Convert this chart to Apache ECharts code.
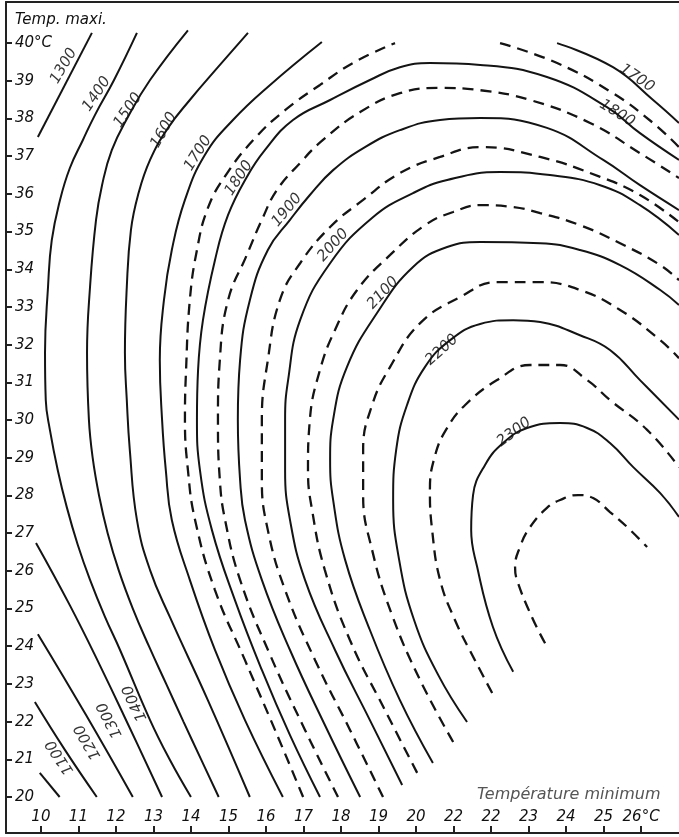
<!DOCTYPE html>
<html><head><meta charset="utf-8">
<script src="https://cdn.jsdelivr.net/npm/echarts@6/dist/echarts.min.js"></script>
<style>html,body{margin:0;padding:0;background:#fff}#c{width:679px;height:837px}</style>
</head><body><div id="c"></div>
<script>
// Axis ticks and labels (as printed on the original)
const xTicks = [10,11,12,13,14,15,16,17,18,19,20,21,22,23,24,25,26];
const xTickLabels = ['10','11','12','13','14','15','16','17','18','19','20','22','22','23','24','25','26°C'];
const yTicks = [20,21,22,23,24,25,26,27,28,29,30,31,32,33,34,35,36,37,38,39,40];
const yTickLabels = ['20','21','22','23','24','25','26','27','28','29','30','31','32','33','34','35','36','37','38','39','40°C'];

// Isolines: [Tmin, Tmax] points
const c1000 = [[9.97,20.64],[10.5,20.0]];
const c1100 = [[9.84,22.52],[10.64,21.25],[11.49,20.0]];
const c1200 = [[9.92,24.32],[11.2,22.18],[12.45,20.0]];
const c1300a = [[9.87,26.74],[10.77,25.09],[11.57,23.50],[12.37,21.83],[13.23,20.0]];
const c1300b = [[9.92,37.51],[11.36,40.27]];
const c1400 = [[12.56,40.27],[11.95,39.02],[11.44,38.09],[11.12,37.43],[10.77,36.68],[10.51,35.84],[10.29,34.77],[10.19,33.53],[10.11,31.78],[10.13,30.53],[10.24,29.74],[10.45,28.67],[10.69,27.69],[10.98,26.7],[11.31,25.76],[11.70,24.8],[12.11,23.90],[12.91,22.04],[13.43,21.0],[14.0,20.0]];
const c1500 = [[13.92,40.34],[12.91,39.02],[12.32,38.04],[11.89,37.16],[11.63,36.23],[11.47,35.31],[11.31,33.53],[11.23,31.78],[11.28,30.01],[11.38,29.0],[11.55,28.0],[11.78,27.0],[12.08,26.0],[12.45,25.0],[12.88,24.0],[13.34,23.0],[13.80,22.0],[14.27,21.0],[14.74,20.0]];
const c1600 = [[15.52,40.27],[14.72,39.36],[13.97,38.49],[13.39,37.75],[12.91,36.90],[12.59,35.97],[12.40,35.04],[12.29,33.53],[12.24,31.78],[12.29,30.53],[12.37,29.21],[12.56,27.35],[12.91,26.02],[13.44,24.77],[14.45,22.57],[15.57,20.0]];
const c1700a = [[17.49,40.03],[16.11,38.89],[15.12,37.96],[14.37,37.03],[13.84,35.84],[13.49,34.51],[13.28,33.18],[13.17,31.59],[13.23,30.01],[13.33,28.67],[13.49,27.35],[13.97,25.76],[14.64,23.90],[15.44,22.04],[16.45,20.0]];
const c1700b = [[23.76,40.0],[25.25,39.36],[26.32,38.49],[27.01,37.88]];
const c1750a = [[16.99,20.0],[16.24,21.78],[15.44,23.63],[14.64,25.49],[14.11,27.35],[13.92,28.67],[13.84,30.01],[13.87,31.33],[13.97,33.18],[14.16,34.51],[14.45,35.62],[14.93,36.50],[15.71,37.48],[16.51,38.22],[17.44,38.89],[18.37,39.5],[19.44,40.0]];
const c1750b = [[22.24,40.0],[23.76,39.47],[25.25,38.67],[26.32,37.88],[27.01,37.24]];
const c1800 = [[17.44,20.0],[16.64,21.64],[15.89,23.37],[15.17,25.23],[14.56,27.08],[14.24,28.67],[14.16,30.01],[14.19,31.33],[14.32,32.65],[14.64,34.24],[14.99,35.44],[15.49,36.45],[15.97,37.16],[16.72,37.96],[17.71,38.49],[18.77,39.02],[19.57,39.36],[20.37,39.47],[21.71,39.42],[23.49,39.10],[25.09,38.30],[25.97,37.61],[27.01,36.90]];
const c1850 = [[17.92,20.0],[17.04,21.78],[16.11,23.77],[15.31,25.76],[14.91,27.35],[14.77,28.41],[14.72,30.01],[14.77,31.59],[14.99,33.18],[15.49,34.38],[15.89,35.31],[16.29,36.10],[16.91,36.82],[17.52,37.43],[18.51,38.17],[19.57,38.67],[20.64,38.81],[21.71,38.75],[23.04,38.49],[24.64,37.88],[25.97,37.08],[27.01,36.42]];
const c1900 = [[18.51,20.0],[17.57,21.91],[16.64,23.90],[15.89,25.76],[15.44,27.35],[15.31,28.41],[15.25,30.01],[15.31,31.59],[15.57,33.18],[16.05,34.51],[16.64,35.31],[17.17,35.97],[17.79,36.63],[18.64,37.24],[19.57,37.69],[20.64,37.96],[21.71,38.01],[23.49,37.75],[24.99,36.90],[25.97,36.23],[27.01,35.57]];
const c1950 = [[19.12,20.0],[18.24,21.78],[17.31,23.63],[16.51,25.49],[16.05,27.08],[15.89,28.41],[15.89,30.01],[16.05,31.59],[16.37,33.18],[16.91,34.16],[17.71,35.12],[18.59,35.84],[19.57,36.55],[20.64,36.98],[21.71,37.24],[23.31,36.98],[24.91,36.45],[25.97,35.97],[27.01,35.25]];
const c2000 = [[19.63,20.32],[18.77,22.04],[17.84,23.90],[17.04,25.76],[16.64,27.35],[16.51,28.67],[16.51,30.01],[16.59,31.06],[16.91,32.65],[17.71,34.16],[18.85,35.38],[19.92,36.02],[20.83,36.37],[22.24,36.58],[23.57,36.50],[24.91,36.23],[25.97,35.70],[27.01,34.91]];
const c2050 = [[20.03,20.64],[19.17,22.31],[18.24,24.16],[17.57,26.02],[17.23,27.61],[17.12,28.67],[17.17,30.01],[17.44,31.33],[17.84,32.39],[18.43,33.45],[19.31,34.38],[20.24,35.17],[20.99,35.52],[21.71,35.70],[22.59,35.65],[23.31,35.49],[24.37,35.17],[25.44,34.69],[26.51,34.11],[27.01,33.71]];
const c2100 = [[20.45,20.90],[19.57,22.57],[18.77,24.43],[18.11,26.29],[17.79,27.88],[17.71,28.94],[17.79,30.01],[18.16,31.41],[18.96,32.84],[19.92,34.06],[20.83,34.59],[21.71,34.72],[23.31,34.69],[24.37,34.51],[25.44,34.11],[26.51,33.45],[27.01,33.05]];
const c2150 = [[20.99,21.46],[20.11,23.10],[19.36,24.83],[18.83,26.55],[18.59,28.01],[18.59,29.21],[18.83,30.40],[19.31,31.41],[20.11,32.57],[21.17,33.26],[22.16,33.66],[23.31,33.66],[24.37,33.45],[25.44,32.92],[26.51,32.12],[27.01,31.64]];
const c2200 = [[21.36,21.99],[20.59,23.24],[19.95,24.69],[19.55,26.29],[19.39,27.88],[19.47,29.20],[19.76,30.40],[20.24,31.41],[20.91,32.12],[21.71,32.55],[22.59,32.65],[23.31,32.60],[24.37,32.25],[25.17,31.86],[25.97,31.06],[27.01,30.01]];
const c2250 = [[22.03,22.76],[21.57,23.63],[21.04,24.69],[20.64,25.76],[20.43,27.08],[20.37,28.14],[20.51,29.07],[20.83,29.79],[21.31,30.40],[22.16,31.06],[23.04,31.46],[23.84,31.46],[24.56,31.06],[25.17,30.53],[26.16,29.74],[27.01,28.75]];
const c2300 = [[22.59,23.32],[22.05,24.51],[21.63,26.10],[21.47,27.08],[21.52,28.01],[21.84,28.81],[22.32,29.39],[22.96,29.79],[23.84,29.92],[24.56,29.79],[25.17,29.39],[25.79,28.75],[26.51,28.06],[27.01,27.43]];
const c2350 = [[23.44,24.08],[23.09,24.77],[22.69,25.76],[22.64,26.10],[22.77,26.63],[23.04,27.16],[23.49,27.67],[23.84,27.88],[24.32,28.01],[24.72,27.93],[25.17,27.56],[25.63,27.16],[26.16,26.63]];

const solidLines = [c1000,c1100,c1200,c1300a,c1300b,c1400,c1500,c1600,c1700a,c1700b,c1800,c1900,c2000,c2100,c2200,c2300];
const dashedLines = [c1750a,c1750b,c1850,c1950,c2050,c2150,c2250,c2350];

// Isoline labels: [Tmin, Tmax, text]
const lineLabels = [
  [10.61,39.39,'1300'],[11.49,38.65,'1400'],[12.32,38.22,'1500'],[13.28,37.69,'1600'],
  [14.19,37.08,'1700'],[15.28,36.42,'1800'],[16.56,35.57,'1900'],[17.79,34.64,'2000'],
  [19.12,33.37,'2100'],[20.69,31.86,'2200'],[22.61,29.68,'2300'],
  [25.89,39.07,'1700'],[25.36,38.14,'1800'],
  [10.51,21.06,'1100'],[11.25,21.46,'1200'],[11.84,22.04,'1300'],[12.51,22.49,'1400']
];
const labelAngles = [60,56,56,61,58,57,50,48,47,42,37,-34,-32,123,120,117,115];

const FONT = 'DejaVu Sans';
const INK = '#141414';
const chart = echarts.init(document.getElementById('c'), null, {renderer:'canvas'});
const series = [];
solidLines.forEach(d => series.push({type:'line', data:d, symbol:'none', smooth:0.45, silent:true,
  lineStyle:{color:INK, width:2}}));
dashedLines.forEach(d => series.push({type:'line', data:d, symbol:'none', smooth:0.45, silent:true,
  lineStyle:{color:INK, width:2.3, type:[11,7]}}));
series.push({type:'scatter', symbolSize:1, itemStyle:{color:'rgba(0,0,0,0)'}, silent:true,
  data: lineLabels.map((l,i)=>({value:[l[0],l[1]], label:{formatter:l[2], rotate:labelAngles[i]}})),
  label:{show:true, position:'inside', color:'#000', fontSize:15, fontStyle:'italic', fontFamily:FONT, align:'center', verticalAlign:'middle'}});

chart.setOption({
  animation:false,
  grid:{left:6, right:0, top:2, bottom:4},
  xAxis:[{type:'value', min:9.07, max:27.01, position:'bottom',
    axisLine:{show:true, lineStyle:{color:'#222', width:2}},
    axisTick:{show:true, inside:true, length:7, customValues:xTicks, lineStyle:{color:'#222', width:2}},
    axisLabel:{inside:true, margin:8, customValues:xTicks, color:'#111', fontSize:15, fontStyle:'italic', fontFamily:FONT,
      formatter:v=>xTickLabels[xTicks.indexOf(Math.round(v))]},
    splitLine:{show:false}},
   {type:'value', min:9.07, max:27.01, position:'top',
    axisLine:{show:true, lineStyle:{color:'#222', width:2}}, axisTick:{show:false}, axisLabel:{show:false}, splitLine:{show:false}}],
  yAxis:{type:'value', min:19.045, max:41.09,
    axisLine:{show:true, lineStyle:{color:'#222', width:2}},
    axisTick:{show:true, inside:true, length:6, customValues:yTicks, lineStyle:{color:'#222', width:2}},
    axisLabel:{inside:true, margin:9, customValues:yTicks, color:'#111', fontSize:15, fontStyle:'italic', fontFamily:FONT,
      formatter:v=>yTickLabels[yTicks.indexOf(Math.round(v))]},
    splitLine:{show:false}},
  graphic:[
    {type:'text', left:15, top:13, style:{text:'Temp. maxi.', fill:'#111', font:'italic 15px "DejaVu Sans"'}},
    {type:'text', left:477, top:787, style:{text:'Température minimum', fill:'#555', font:'italic 16px "DejaVu Sans"'}}
  ],
  series
});
</script></body></html>
